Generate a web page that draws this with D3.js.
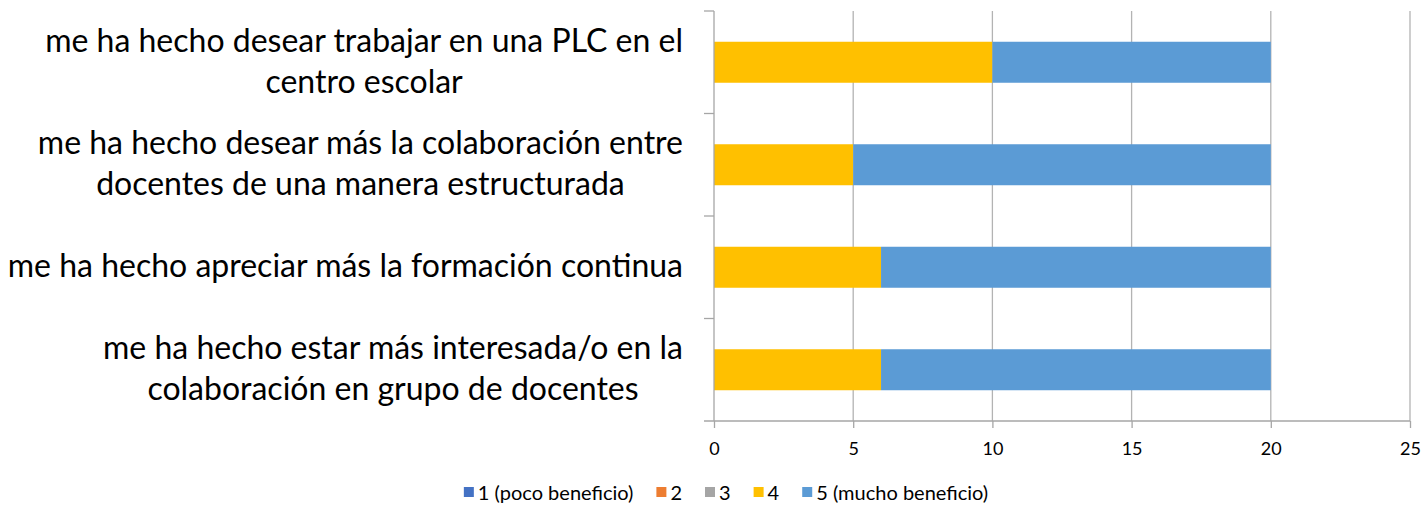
<!DOCTYPE html>
<html>
<head>
<meta charset="utf-8">
<script src="https://cdn.jsdelivr.net/npm/d3@7"></script>
<style>
  body { margin: 0; background: #fff; }
  text { font-family: Lato, "Open Sans", sans-serif; fill: #000; }
</style>
</head>
<body>
<div id="chart"></div>
<script>
const categories = [
  ["me ha hecho desear trabajar en una PLC en el", "centro escolar"],
  ["me ha hecho desear más la colaboración entre", "docentes de una manera estructurada"],
  ["me ha hecho apreciar más la formación continua"],
  ["me ha hecho estar más interesada/o en la", "colaboración en grupo de docentes"]
];
const seriesNames = ["1 (poco beneficio)", "2", "3", "4", "5 (mucho beneficio)"];
const s1 = [0, 0, 0, 0];
const s2 = [0, 0, 0, 0];
const s3 = [0, 0, 0, 0];
const s4 = [10, 5, 6, 6];
const s5 = [10, 15, 14, 14];
const xTicks = [0, 5, 10, 15, 20, 25];
const colors = ["#4472C4", "#ED7D31", "#A5A5A5", "#FFC000", "#5B9BD5"];

const W = 1423, H = 508;
const margin = { top: 11, right: 13, bottom: 87, left: 714 };
const width = W - margin.left - margin.right;
const height = H - margin.top - margin.bottom;

const svg = d3.select("#chart").append("svg")
  .attr("width", W).attr("height", H);
const g = svg.append("g")
  .attr("transform", `translate(${margin.left},${margin.top})`);

const x = d3.scaleLinear().domain([0, 25]).range([0, width]);
const y = d3.scaleBand().domain(d3.range(categories.length)).range([0, height])
  .paddingInner(0.6).paddingOuter(0.3);
const yBand = d3.scaleBand().domain(d3.range(categories.length)).range([0, height]);

// gridlines
g.selectAll(".grid").data(xTicks.filter(d => d > 0)).enter().append("line")
  .attr("x1", d => x(d)).attr("x2", d => x(d))
  .attr("y1", 0).attr("y2", height)
  .attr("stroke", "#b3b3b3").attr("stroke-width", 1.3);

// stacked bars
const rows = categories.map((c, i) => ({ i, v: [s1[i], s2[i], s3[i], s4[i], s5[i]] }));
const stack = d3.stack().keys([0, 1, 2, 3, 4]).value((d, k) => d.v[k]);
const layers = stack(rows);
g.selectAll(".layer").data(layers).enter().append("g")
  .attr("fill", (d, k) => colors[k])
  .selectAll("rect").data(d => d).enter().append("rect")
  .attr("x", d => x(d[0]))
  .attr("width", d => x(d[1]) - x(d[0]))
  .attr("y", d => y(d.data.i))
  .attr("height", y.bandwidth());

// x axis
const xAxis = g.append("g").attr("transform", `translate(0,${height})`)
  .call(d3.axisBottom(x).tickValues(xTicks).tickSize(7).tickPadding(14));
xAxis.select(".domain").attr("stroke", "#a6a6a6").attr("stroke-width", 1.3)
  .attr("d", `M${-10},0H${width}`);
xAxis.selectAll(".tick line").attr("stroke", "#a6a6a6").attr("stroke-width", 1.3);
xAxis.selectAll(".tick text").attr("font-size", 18).attr("font-family", "Lato");

// y axis line and category ticks
const yAxis = g.append("g");
yAxis.append("line").attr("x1", 0).attr("x2", 0).attr("y1", 0).attr("y2", height)
  .attr("stroke", "#a6a6a6").attr("stroke-width", 1.3);
yAxis.selectAll(".ytick").data(d3.range(categories.length)).enter().append("line")
  .attr("x1", -10).attr("x2", 0)
  .attr("y1", d => yBand(d)).attr("y2", d => yBand(d))
  .attr("stroke", "#a6a6a6").attr("stroke-width", 1.3);

// category labels: block right-aligned, lines centred
const labelRight = 683 - margin.left;
const lineH = 41;
categories.forEach((lines, i) => {
  const t = g.append("text").attr("font-size", 32).attr("text-anchor", "middle");
  const cy = yBand(i) + yBand.bandwidth() / 2 - 1;
  const y0 = cy - (lines.length - 1) * lineH / 2 + 11;
  const spans = lines.map((l, j) => t.append("tspan").attr("y", y0 + j * lineH).text(l));
  const maxW = d3.max(spans, s => s.node().getComputedTextLength());
  spans.forEach(s => s.attr("x", labelRight - maxW / 2));
});

// legend
const legend = svg.append("g");
let lx = 0;
seriesNames.forEach((name, k) => {
  const it = legend.append("g").attr("transform", `translate(${lx},0)`);
  it.append("rect").attr("x", 0).attr("y", -13).attr("width", 10).attr("height", 10)
    .attr("fill", colors[k]);
  const tx = it.append("text").attr("x", 14).attr("y", 0).attr("font-size", 20).text(name);
  lx += 14 + tx.node().getComputedTextLength() + 23;
});
lx -= 23;
legend.attr("transform", `translate(${726 - lx / 2},500)`);
</script>
</body>
</html>
